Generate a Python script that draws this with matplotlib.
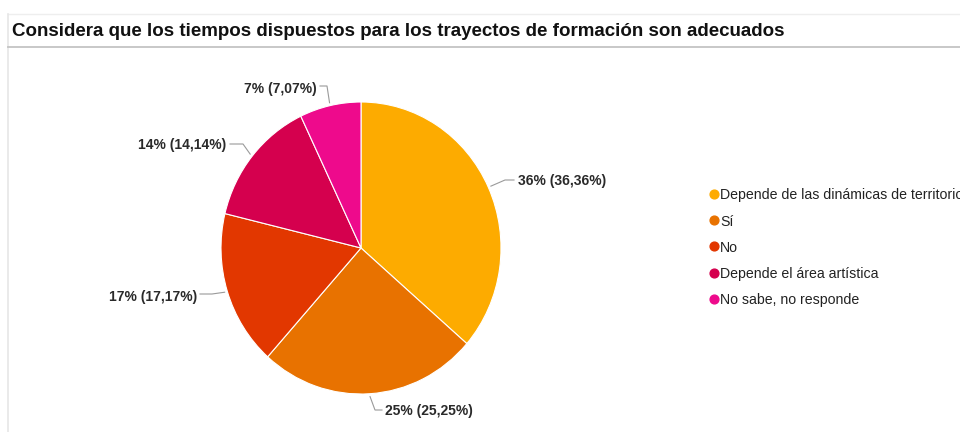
import numpy as np
import matplotlib
matplotlib.use('Agg')
import matplotlib.pyplot as plt

# data
categories = ['Depende de las dinámicas de territorio', 'Sí', 'No',
              'Depende el área artística', 'No sabe, no responde']
counts = [36, 25, 17, 14, 7]
pct_labels = ['36% (36,36%)', '25% (25,25%)', '17% (17,17%)',
              '14% (14,14%)', '7% (7,07%)']
colors = ['#FDAB00', '#E87200', '#E23700', '#D5004E', '#EE0A8C']

plt.rcParams['font.family'] = ['Liberation Sans', 'DejaVu Sans']

W, H = 960, 432
fig = plt.figure(figsize=(W / 100, H / 100), dpi=100)

# pie box in pixels (centre and radii)
cx, cy, rx, ry = 361, 248, 140, 146
ax = fig.add_axes([(cx - rx) / W, (H - cy - ry) / H, 2 * rx / W, 2 * ry / H])
wedges, _ = ax.pie(counts, colors=colors, startangle=90, counterclock=False,
                   wedgeprops=dict(edgecolor='white', linewidth=0.8))
ax.set_aspect('auto')
ax.set_xlim(-1, 1)
ax.set_ylim(-1, 1)

# overlay in pixel coords for text, leaders, frame
ov = fig.add_axes([0, 0, 1, 1], zorder=5)
ov.set_xlim(0, W)
ov.set_ylim(H, 0)
ov.axis('off')

# card frame
ov.plot([8, W], [14, 14], color='#eeeeee', lw=1)
ov.plot([8, 8], [14, H], color='#e6e6e6', lw=1.2)
ov.plot([8, W], [47, 47], color='#c4c4c4', lw=1.3)

ov.text(12, 29, 'Considera que los tiempos dispuestos para los trayectos de formación son adecuados',
        fontsize=13.5, fontweight='bold', color='#111111', va='center_baseline', ha='left')

# leader lines: elbow, end, text pos, alignment
leaders = [
    ((505, 180), (514, 180), (518, 179), 'left'),
    ((375, 410), (382, 410), (385, 410), 'left'),
    ((212, 294), (200, 294), (197, 296), 'right'),
    ((243, 144), (230, 144), (226, 144), 'right'),
    ((327, 86), (320, 86), (317, 87), 'right'),
]
total = sum(counts)
cum = 0
for v, lab, (elb, end, tp, ha) in zip(counts, pct_labels, leaders):
    mid_frac = (cum + v / 2) / total
    cum += v
    ang = np.deg2rad(90 - 360 * mid_frac)
    sx = cx + 1.02 * rx * np.cos(ang)
    sy = cy - 1.02 * ry * np.sin(ang)
    ov.plot([sx, elb[0], end[0]], [sy, elb[1], end[1]], color='#9a9a9a', lw=0.8)
    ov.text(tp[0], tp[1], lab, fontsize=10, fontweight='bold', color='#2a2a2a',
            ha=ha, va='center_baseline')

# legend (the reference itself cuts the first entry at the right edge)
ly0, dy = 194, 26.2
for i, (c, name) in enumerate(zip(colors, categories)):
    y = ly0 + i * dy
    ov.scatter([714], [y], s=40, color=c, zorder=6)
    ov.text(720, y, name, fontsize=10.2, color='#222222', ha='left', va='center_baseline')

fig.savefig('out.png', dpi=100)
